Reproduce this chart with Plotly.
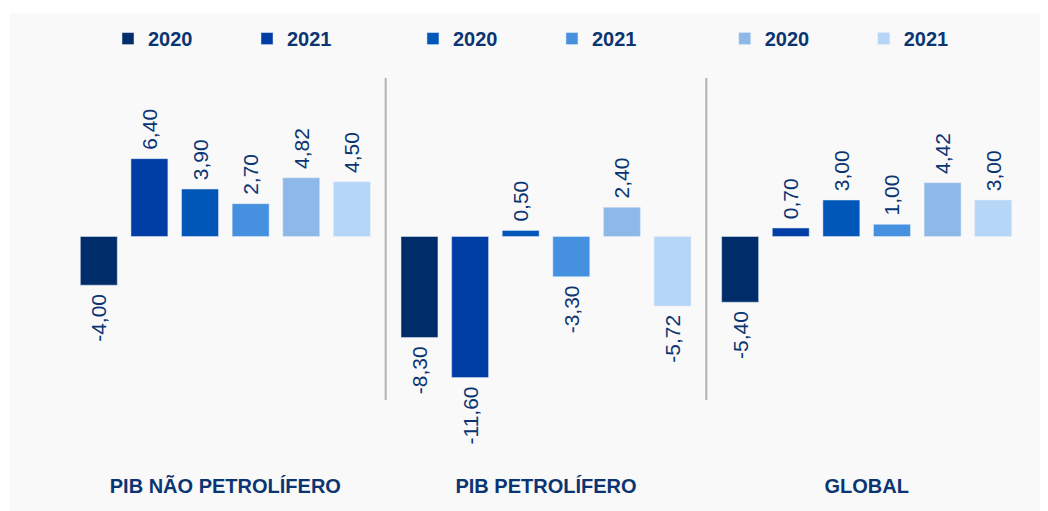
import plotly.graph_objects as go

# categories and series
grupos = ["PIB NÃO PETROLÍFERO", "PIB PETROLÍFERO", "GLOBAL"]
series_nomes = ["2020", "2021", "2020", "2021", "2020", "2021"]
serie_1 = [-4.00, -8.30, -5.40]
serie_2 = [6.40, -11.60, 0.70]
serie_3 = [3.90, 0.50, 3.00]
serie_4 = [2.70, -3.30, 1.00]
serie_5 = [4.82, 2.40, 4.42]
serie_6 = [4.50, -5.72, 3.00]
valores = [serie_1, serie_2, serie_3, serie_4, serie_5, serie_6]

CORES = ["#002d69", "#003da5", "#0057b7", "#4591df", "#8db8e8", "#b6d6f8"]
TEXTO = "#0b3572"
FONTE = "Liberation Sans, Arial, sans-serif"
LEGENDAS = ["legend", "legend", "legend2", "legend2", "legend3", "legend3"]


def rotulo(v):
    s = f"{v:.2f}".replace(".", ",")
    return "\u00a0" + s if v >= 0 else s + "\u00a0"


fig = go.Figure()
for nome, vals, cor, leg in zip(series_nomes, valores, CORES, LEGENDAS):
    fig.add_trace(
        go.Bar(
            x=grupos,
            y=vals,
            name=nome,
            marker_color=cor,
            text=[rotulo(v) for v in vals],
            textposition="outside",
            textangle=-90,
            constraintext="none",
            cliponaxis=False,
            textfont=dict(family=FONTE, size=21, color=TEXTO),
            legend=leg,
        )
    )

leg_base = dict(
    orientation="h",
    yanchor="middle",
    y=1.119,
    xanchor="left",
    entrywidth=94,
    bgcolor="rgba(0,0,0,0)",
    font=dict(family=FONTE, size=20, color=TEXTO, weight="bold"),
)

# the page adds an 8px body margin, so the figure is drawn 8px smaller
fig.update_layout(
    width=1040,
    height=503,
    barmode="group",
    bargap=0.053,
    bargroupgap=0.27,
    paper_bgcolor="white",
    plot_bgcolor="rgba(0,0,0,0)",
    margin=dict(l=57, r=21, t=69, b=111),
    showlegend=True,
    legend=dict(leg_base, x=0.0447),
    legend2=dict(leg_base, x=0.3617),
    legend3=dict(leg_base, x=0.6858),
    xaxis=dict(
        showgrid=False,
        showline=False,
        ticks="",
        ticklabelstandoff=72,
        tickfont=dict(family=FONTE, size=20, color=TEXTO, weight="bold"),
    ),
    yaxis=dict(range=[-13.44, 13.03], visible=False, showgrid=False, zeroline=False),
    shapes=[
        dict(type="rect", xref="paper", yref="paper", x0=-0.0572, x1=1.05, y0=-0.5, y1=1.201,
             fillcolor="#f9f9f9", line_width=0, layer="below"),
        dict(type="line", xref="x", yref="paper", x0=0.5, x1=0.5, y0=0, y1=1,
             line=dict(color="#b3b3b3", width=2)),
        dict(type="line", xref="x", yref="paper", x0=1.5, x1=1.5, y0=0, y1=1,
             line=dict(color="#b3b3b3", width=2)),
    ],
)

fig.write_html("out.html")
